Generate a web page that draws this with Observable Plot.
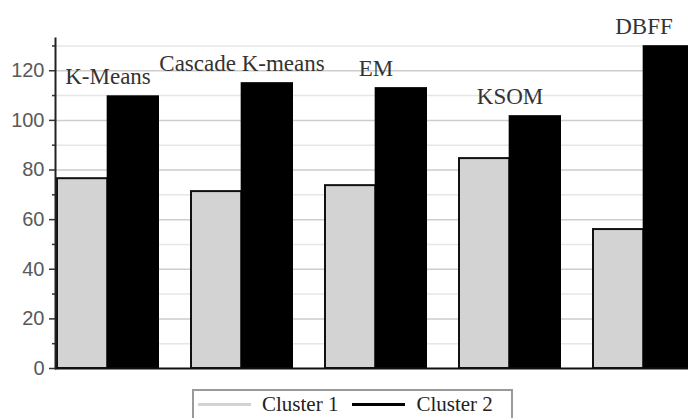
<!DOCTYPE html>
<html>
<head>
<meta charset="utf-8">
<script src="https://cdn.jsdelivr.net/npm/d3@7"></script>
<script src="https://cdn.jsdelivr.net/npm/@observablehq/plot@0.6"></script>
<style>
  html, body { margin: 0; padding: 0; background: #fff; overflow: hidden; }
  #wrap { width: 688px; height: 418px; position: relative; }
  .legend {
    position: absolute; left: 192px; top: 389px; width: 321px; height: 36px;
    border: 2px solid #9a9a9a; box-sizing: border-box; background: #fff;
    font-family: "Liberation Serif", "DejaVu Serif", serif; font-size: 21px; line-height: 21px; color: #222;
    display: flex; align-items: flex-start; padding-top: 3px; padding-left: 4px;
  }
  .legend .item { display: flex; align-items: center; margin-right: 14px; }
  .legend .swatch { width: 53px; height: 3px; margin-right: 11px; }
</style>
</head>
<body>
<div id="wrap"></div>
<script>
const categories = ["K-Means", "Cascade K-means", "EM", "KSOM", "DBFF"];
const cluster1 = [76.5, 71.3, 73.7, 84.6, 56];
const cluster2 = [109.5, 114.8, 112.8, 101.5, 129.7];
const seriesNames = ["Cluster 1", "Cluster 2"];
const seriesColors = ["#d3d3d3", "#000000"];
const majorTicks = [0, 20, 40, 60, 80, 100, 120];
const minorTicks = [10, 30, 50, 70, 90, 110, 130];

const rows = [];
categories.forEach((c, i) => {
  rows.push({category: c, series: seriesNames[0], value: cluster1[i]});
  rows.push({category: c, series: seriesNames[1], value: cluster2[i]});
});
const labels = categories.map((c, i) => ({category: c, top: Math.max(cluster1[i], cluster2[i])}));

const xRange = [56, 695];
const padInner = 0.246;
const step = (xRange[1] - xRange[0]) / (categories.length - padInner);
const half = step * (1 - padInner) / 2;

const serif = "Liberation Serif, DejaVu Serif, serif";
const sans = "Liberation Sans, DejaVu Sans, sans-serif";

const plot = Plot.plot({
  width: 688,
  height: 384,
  marginLeft: 55,
  marginRight: 0,
  marginTop: 38,
  marginBottom: 16,
  style: {fontFamily: serif, background: "#fff", overflow: "hidden"},
  x: {domain: categories, range: xRange, paddingInner: padInner, paddingOuter: 0, axis: null},
  y: {domain: [0, 133], axis: null},
  color: {domain: seriesNames, range: seriesColors},
  marks: [
    Plot.ruleY(minorTicks, {stroke: "#e6e6e6", strokeWidth: 1.5}),
    Plot.ruleY(majorTicks.filter(d => d > 0), {stroke: "#cdcdcd", strokeWidth: 1.5}),
    Plot.barY(rows.filter(d => d.series === seriesNames[0]), {
      x: "category", y: "value", fill: seriesColors[0], stroke: "#111", strokeWidth: 2,
      insetLeft: 0, insetRight: half
    }),
    Plot.barY(rows.filter(d => d.series === seriesNames[1]), {
      x: "category", y: "value", fill: seriesColors[1], stroke: "#000", strokeWidth: 2,
      insetLeft: half, insetRight: 0
    }),
    Plot.text(labels, {
      x: "category", y: "top", text: "category", dy: -20,
      fontSize: 23, fill: "#333", fontFamily: serif
    }),
    Plot.ruleY([0], {stroke: "#111", strokeWidth: 2}),
    Plot.frame({anchor: "left", stroke: "#222", strokeWidth: 2}),
    Plot.axisY(minorTicks, {tickSize: 3, text: null, stroke: "#333", strokeWidth: 1.5}),
    Plot.axisY(majorTicks, {tickSize: 6, tickPadding: 5, stroke: "#333", strokeWidth: 1.5,
      fontSize: 20, fill: "#595959", fontFamily: sans, label: null})
  ]
});

const wrap = document.getElementById("wrap");
wrap.appendChild(plot);

const legend = document.createElement("div");
legend.className = "legend";
seriesNames.forEach((name, i) => {
  const item = document.createElement("div");
  item.className = "item";
  const sw = document.createElement("span");
  sw.className = "swatch";
  sw.style.background = seriesColors[i];
  const t = document.createElement("span");
  t.textContent = name;
  item.appendChild(sw);
  item.appendChild(t);
  legend.appendChild(item);
});
wrap.appendChild(legend);
</script>
</body>
</html>
